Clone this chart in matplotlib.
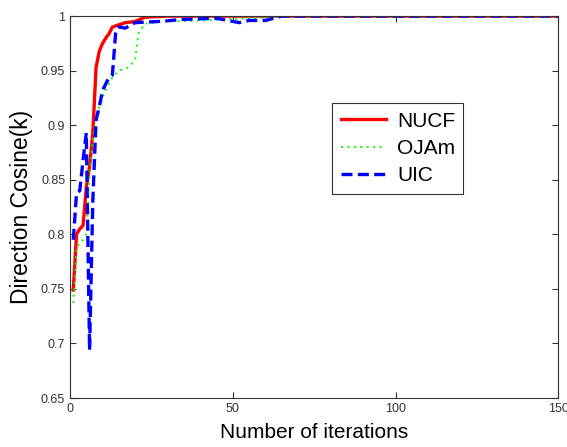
import matplotlib.pyplot as plt

plt.rcParams['font.family'] = ['Liberation Sans', 'DejaVu Sans']

# NUCF (red, solid)
nucf_it = [1, 2, 3, 4, 5, 6, 7, 8, 9, 10, 11, 12, 13, 15, 17, 20, 23, 30, 150]
nucf_val = [0.749, 0.80, 0.805, 0.808, 0.843, 0.862, 0.893, 0.953, 0.968, 0.975, 0.980, 0.984, 0.990, 0.992, 0.994, 0.995, 0.999, 1.0, 1.0]

# OJAm (green, dotted)
ojam_it = [1, 2, 3, 4, 5, 6, 7, 8, 10, 13, 15, 18, 20, 21, 23, 28, 40, 55, 70, 150]
ojam_val = [0.737, 0.788, 0.792, 0.795, 0.800, 0.853, 0.886, 0.908, 0.926, 0.944, 0.950, 0.953, 0.960, 0.984, 0.993, 0.995, 0.996, 0.998, 1.0, 1.0]

# UIC (blue, dashed)
uic_it = [1, 2, 3, 4, 5, 6, 7, 8, 9, 10, 12, 13, 14, 15, 17, 20, 27, 35, 45, 52, 55, 60, 65, 150]
uic_val = [0.795, 0.838, 0.840, 0.868, 0.893, 0.694, 0.831, 0.905, 0.917, 0.932, 0.944, 0.946, 0.984, 0.990, 0.989, 0.994, 0.995, 0.997, 0.998, 0.994, 0.996, 0.996, 1.0, 1.0]

fig = plt.figure(figsize=(5.67, 4.47), dpi=100)
ax = fig.add_axes([0.1235, 0.1096, 0.8615, 0.8544])

ax.plot(nucf_it, nucf_val, color='#ff0000', lw=2.4, label='NUCF')
ax.plot(ojam_it, ojam_val, color='#00ff00', lw=1.4, linestyle=(0, (1.0, 2.3)), label='OJAm')
ax.plot(uic_it, uic_val, color='#0000ff', lw=2.4, linestyle=(0, (3.3, 1.6)), label='UIC')

for s in ax.spines.values():
    s.set_linewidth(0.8)
    s.set_color('#333333')

ax.set_xlim(0, 150)
ax.set_ylim(0.65, 1.0)
ax.set_xticks([0, 50, 100, 150])
ax.set_yticks([0.65, 0.7, 0.75, 0.8, 0.85, 0.9, 0.95, 1.0])
ax.set_yticklabels(['0.65', '0.7', '0.75', '0.8', '0.85', '0.9', '0.95', '1'])
ax.tick_params(direction='in', top=True, right=True, labelsize=9, length=4, width=0.8, colors='#333333')
ax.set_xlabel('Number of iterations', fontsize=15, labelpad=6)
ax.set_ylabel('Direction Cosine(k)', fontsize=16.5, labelpad=6)

leg = ax.legend(loc='upper left', bbox_to_anchor=(0.537, 0.772), fontsize=15,
                frameon=True, fancybox=False, edgecolor='black', handlelength=2.2,
                borderpad=0.4, labelspacing=0.4, handletextpad=0.5, borderaxespad=0)
leg.get_frame().set_linewidth(0.8)

plt.savefig('out.png', dpi=100)
